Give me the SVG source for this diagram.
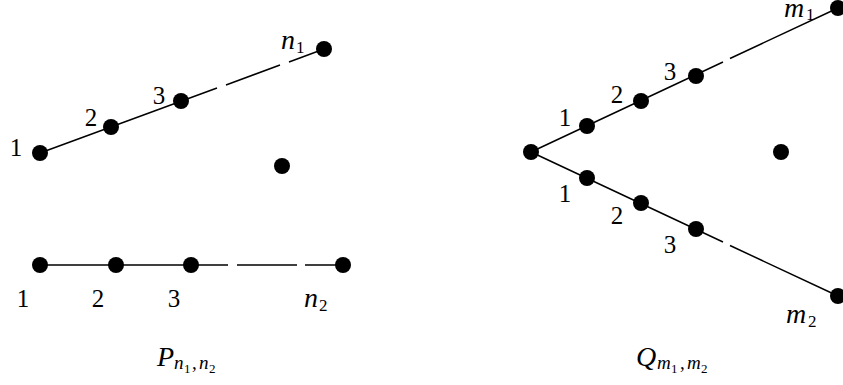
<svg xmlns="http://www.w3.org/2000/svg" width="843" height="385" viewBox="0 0 843 385">
<style>
.n{fill:#000}
.e{stroke:#000;stroke-width:1.5;fill:none}
text{font-family:"Liberation Serif","DejaVu Serif",serif;font-size:25px;fill:#000}
.c{text-anchor:middle}
.i{font-style:italic}
.v{font-size:28px}
.s{font-size:17px}
.u{font-size:19px}
.t{font-size:13px}
.L{font-size:28px}
</style>
<g id="connectors">
<path class="e" d="M40,153 L217,88 M226,85 L280,65 M289,62 L324,49"/>
<path class="e" d="M40,265 L228,265 M237,265 L297,265 M305,265 L343,265"/>
<path class="e" d="M531,152 L723,62 M730,58.5 L838,8"/>
<path class="e" d="M531,152 L723,242 M730,245.5 L838,296"/>
</g>
<g id="P">
<g id="p-a1"><circle class="n" cx="40" cy="153" r="8"/><text class="c" x="16" y="156">1</text></g>
<g id="p-a2"><circle class="n" cx="111" cy="127" r="8"/><text class="c" x="91" y="126">2</text></g>
<g id="p-a3"><circle class="n" cx="181" cy="101" r="8"/><text class="c" x="159" y="104">3</text></g>
<g id="p-an"><circle class="n" cx="324" cy="49" r="8"/><text class="i v" x="281" y="49">n</text><text class="s" x="296" y="53">1</text></g>
<g id="p-c"><circle class="n" cx="282" cy="166" r="8"/></g>
<g id="p-b1"><circle class="n" cx="40" cy="265" r="8"/><text class="c" x="23" y="307">1</text></g>
<g id="p-b2"><circle class="n" cx="116" cy="265" r="8"/><text class="c" x="98" y="307">2</text></g>
<g id="p-b3"><circle class="n" cx="191" cy="265" r="8"/><text class="c" x="174" y="307">3</text></g>
<g id="p-bn"><circle class="n" cx="343" cy="265" r="8"/><text class="i v" x="304" y="307">n</text><text class="s" x="319" y="311">2</text></g>
<g id="p-label"><text class="i L" x="157" y="366">P</text><text class="i u" x="174" y="369">n</text><text class="t" x="184" y="373">1</text><text class="u" x="192" y="369">,</text><text class="i u" x="199" y="369">n</text><text class="t" x="209" y="373">2</text></g>
</g>
<g id="Q">
<g id="q-c0"><circle class="n" cx="531" cy="152" r="8"/></g>
<g id="q-a1"><circle class="n" cx="587" cy="126" r="8"/><text class="c" x="565" y="126">1</text></g>
<g id="q-a2"><circle class="n" cx="641" cy="101" r="8"/><text class="c" x="617" y="103">2</text></g>
<g id="q-a3"><circle class="n" cx="696" cy="76" r="8"/><text class="c" x="670" y="80">3</text></g>
<g id="q-am"><circle class="n" cx="838" cy="8" r="8"/><text class="i v" x="784" y="17">m</text><text class="s" x="806" y="20">1</text></g>
<g id="q-b1"><circle class="n" cx="587" cy="178" r="8"/><text class="c" x="565" y="202">1</text></g>
<g id="q-b2"><circle class="n" cx="641" cy="203" r="8"/><text class="c" x="617" y="224">2</text></g>
<g id="q-b3"><circle class="n" cx="696" cy="229" r="8"/><text class="c" x="670" y="253">3</text></g>
<g id="q-bm"><circle class="n" cx="838" cy="296" r="8"/><text class="i v" x="786" y="323">m</text><text class="s" x="808" y="327">2</text></g>
<g id="q-c"><circle class="n" cx="781" cy="152" r="8"/></g>
<g id="q-label"><text class="i L" x="636" y="366">Q</text><text class="i u" x="657" y="369">m</text><text class="t" x="671" y="373">1</text><text class="u" x="680" y="369">,</text><text class="i u" x="687" y="369">m</text><text class="t" x="701" y="373">2</text></g>
</g>
</svg>
